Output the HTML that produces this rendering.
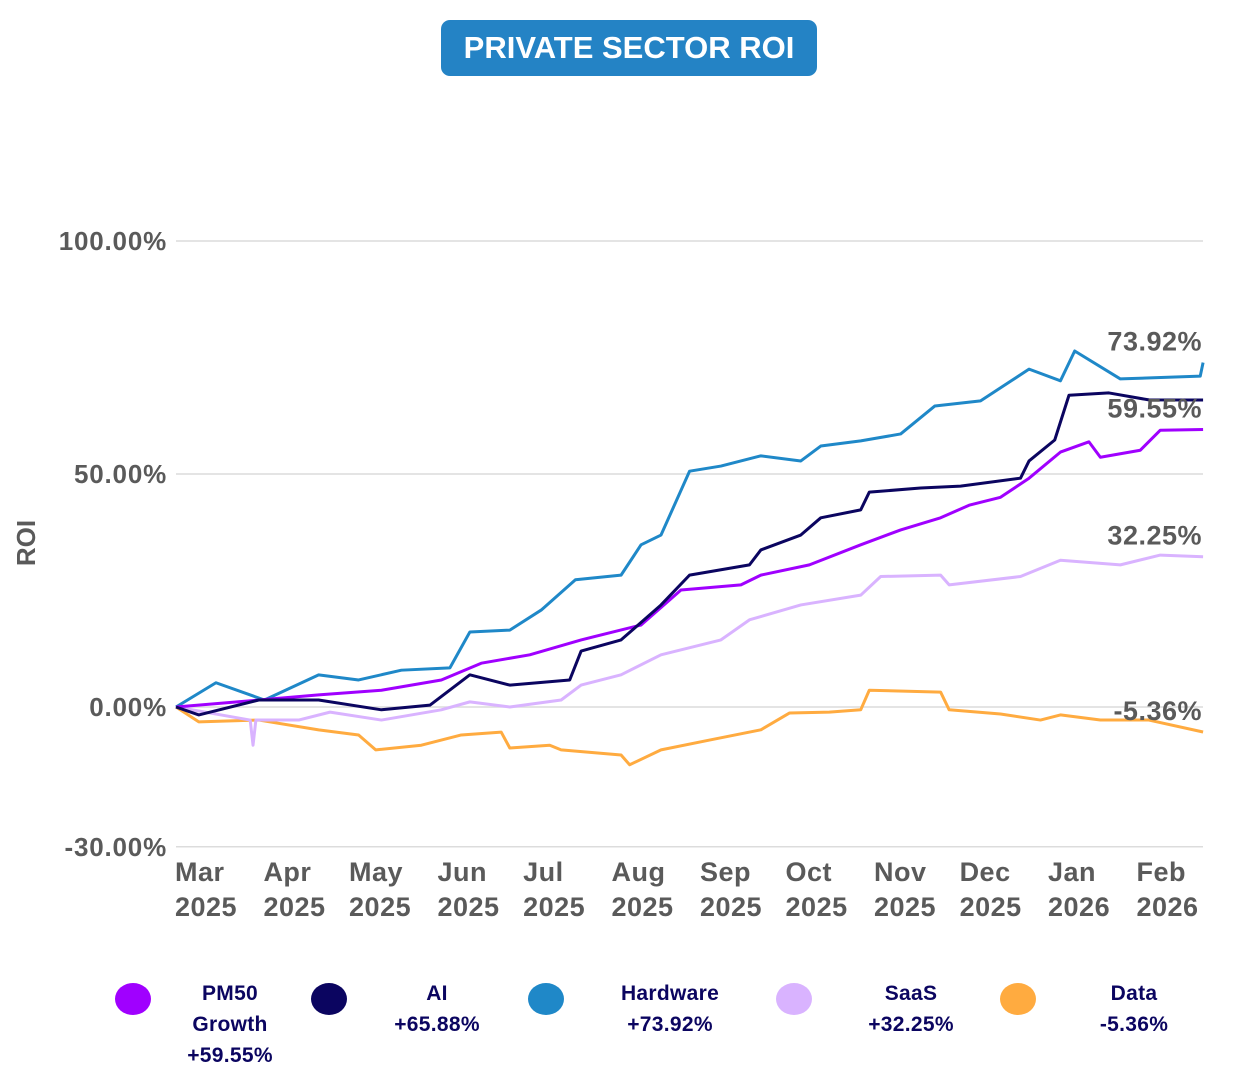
<!DOCTYPE html>
<html><head><meta charset="utf-8"><style>
body{margin:0;background:#fff;font-family:"Liberation Sans",sans-serif;}
#wrap{position:relative;width:1240px;height:1078px;overflow:hidden;}
.title{position:absolute;left:441px;top:20px;width:376px;height:56px;background:#2483c5;border-radius:9px;color:#fff;font-weight:bold;font-size:31px;line-height:56px;text-align:center;}
.leg{position:absolute;top:983px;}
.dot{position:absolute;width:36px;height:32px;border-radius:50%;}
.lt{position:absolute;width:140px;text-align:center;color:#0b0560;font-weight:bold;font-size:21px;line-height:31px;top:-5px;letter-spacing:0.3px;}
</style></head><body>
<div id="wrap">
<div class="title">PRIVATE SECTOR ROI</div>
<svg id="chart" width="1240" height="1078" style="position:absolute;left:0;top:0"></svg>
<div id="legend"></div>
</div>
<script>
const monthLabels=["Mar","Apr","May","Jun","Jul","Aug","Sep","Oct","Nov","Dec","Jan","Feb"];
const yearLabels=["2025","2025","2025","2025","2025","2025","2025","2025","2025","2025","2026","2026"];
const monthStartDays=[0,31,61,92,122,153,184,214,245,275,306,337];
const yTicks=[100,50,0,-30];
const seriesNames=["PM50 Growth","AI","Hardware","SaaS","Data"];
const seriesFinal=[59.55,65.88,73.92,32.25,-5.36];
const hwDays=[0,14,31,50,64,79,96,103,117,128,140,156,163,170,180,191,205,219,226,240,254,266,282,299,310,315,331,359,360];
const hwVals=[0,5.2,1.5,6.9,5.8,7.9,8.4,16.1,16.5,20.8,27.3,28.3,34.8,36.9,50.6,51.7,53.9,52.8,56,57.1,58.6,64.6,65.7,72.5,70,76.4,70.4,71,73.92];
const aiDays=[0,8,29,50,72,89,103,117,138,142,156,170,180,201,205,219,226,240,243,261,275,296,299,308,313,327,341,360];
const aiVals=[0,-1.7,1.5,1.5,-0.6,0.4,6.9,4.7,5.8,12,14.4,21.9,28.3,30.5,33.7,36.9,40.6,42.3,46.1,47,47.4,49.1,52.8,57.3,66.9,67.4,65.9,65.88];
const pmDays=[0,29,50,72,93,107,124,142,163,177,198,205,222,240,254,268,278,289,299,310,320,324,338,345,360];
const pmVals=[0,1.5,2.6,3.6,5.8,9.4,11.2,14.4,17.6,25.1,26.2,28.3,30.5,34.8,38,40.6,43.3,45,49.1,54.7,56.9,53.6,55.1,59.4,59.55];
const saasDays=[0,26,27,28,43,54,72,93,103,117,135,142,156,170,191,201,219,240,247,268,271,296,310,331,345,360];
const saasVals=[0,-2.8,-8.2,-2.8,-2.8,-1.1,-2.8,-0.6,1.1,0,1.5,4.7,6.9,11.2,14.4,18.7,21.9,24,28,28.3,26.2,28,31.5,30.5,32.6,32.25];
const dataDays=[0,8,29,50,64,70,86,100,114,117,131,135,156,159,170,187,205,215,229,240,243,268,271,289,303,310,324,341,360];
const dataVals=[0,-3.2,-2.8,-4.9,-6,-9.2,-8.2,-6,-5.4,-8.8,-8.2,-9.2,-10.3,-12.4,-9.2,-7.1,-4.9,-1.3,-1.1,-0.6,3.6,3.2,-0.6,-1.5,-2.8,-1.7,-2.8,-2.8,-5.36];

const NS="http://www.w3.org/2000/svg";
const svg=document.getElementById('chart');
const X=d=>176+d*2.853;
const Y=v=>707-v*4.66;
function mk(t,a){const e=document.createElementNS(NS,t);for(const k in a)e.setAttribute(k,a[k]);svg.appendChild(e);return e;}
yTicks.forEach(v=>{
  const g=mk('line',{x1:176,x2:1203,y1:Y(v),y2:Y(v),stroke:'#dcdcdc','stroke-width':1.5});
  
  
  const t=mk('text',{x:167,y:Y(v)+9,'text-anchor':'end','font-size':26,'font-weight':'bold',fill:'#5a5a5a','letter-spacing':'0.8'});
  t.textContent=v.toFixed(2)+'%';
  
  
});
const yt=mk('text',{x:35,y:543,'text-anchor':'middle','font-size':26,'font-weight':'bold',fill:'#5a5a5a',transform:'rotate(-90 35 543)'});
yt.textContent='ROI';


monthLabels.forEach((m,i)=>{
  const t=mk('text',{x:X(monthStartDays[i])-1,y:881,'font-size':27,'font-weight':'bold',fill:'#5a5a5a','letter-spacing':'0.5'});
  t.textContent=m;
  
  
  const t2=mk('text',{x:X(monthStartDays[i])-1,y:916,'font-size':27,'font-weight':'bold',fill:'#5a5a5a','letter-spacing':'0.5'});
  t2.textContent=yearLabels[i];
  
  
});
const series=[
 {d:dataDays,v:dataVals,c:'#ffab40',n:'data-line'},
 {d:saasDays,v:saasVals,c:'#d9b3ff',n:'saas-line'},
 {d:hwDays,v:hwVals,c:'#1f88c8',n:'hardware-line'},
 {d:pmDays,v:pmVals,c:'#a000ff',n:'pm50-growth-line'},
 {d:aiDays,v:aiVals,c:'#0b0560',n:'ai-line'}];
series.forEach(s=>{
  const p=mk('polyline',{points:s.d.map((d,i)=>X(d)+','+Y(s.v[i])).join(' '),fill:'none',stroke:s.c,'stroke-width':3,'stroke-linejoin':'round'});
  
  
});
[[2,seriesFinal[2]],[0,seriesFinal[0]],[3,seriesFinal[3]],[4,seriesFinal[4]]].forEach(([i,v])=>{
  const t=mk('text',{x:1202,y:Y(v)-12,'text-anchor':'end','font-size':27,'font-weight':'bold',fill:'#5a5a5a','letter-spacing':'0.5'});
  t.textContent=v.toFixed(2)+'%';
  
  
});
const legColors=['#a000ff','#0b0560','#1f88c8','#d9b3ff','#ffab40'];
const legX=[115,311,528,776,1000];
const legTxt=['PM50<br>Growth<br>+59.55%','AI<br>+65.88%','Hardware<br>+73.92%','SaaS<br>+32.25%','Data<br>-5.36%'];
const legTextX=[160,367,600,841,1064];
const L=document.getElementById('legend');
legColors.forEach((c,i)=>{
  const d=document.createElement('div');d.className='leg';d.style.left='0px';
  
  
  d.innerHTML='<div class="dot" style="left:'+legX[i]+'px;background:'+c+'"></div><div class="lt" style="left:'+legTextX[i]+'px">'+legTxt[i]+'</div>';
  L.appendChild(d);
});
</script>
</body></html>
